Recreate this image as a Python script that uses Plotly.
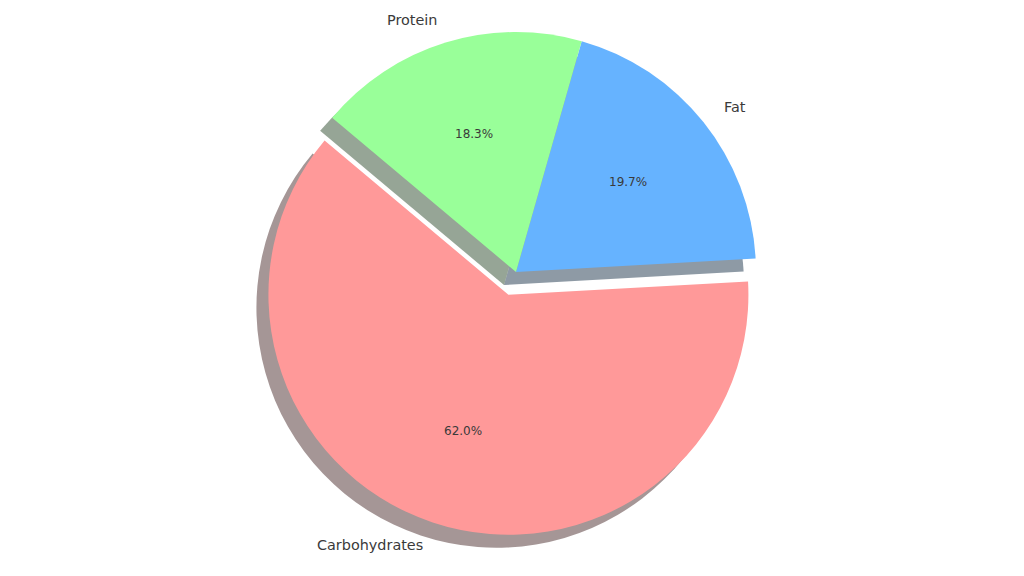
import math
import plotly.graph_objects as go

# ---- data ----
labels = ["Carbohydrates", "Fat", "Protein"]
values = [62.0, 19.7, 18.3]
colors = ["#ff9999", "#66b3ff", "#99ff99"]
explode = [0.1, 0.0, 0.0]

# ---- layout constants (pixels) ----
W, H = 1024, 576
PAGE_OFF = 8               # default body margin of the html page
CX, CY = 516 - PAGE_OFF, 272 - PAGE_OFF   # pie centre within the figure (px, y down)
R_WANT = 240               # wanted pie radius (px)
START = 140                # start angle, degrees counter-clockwise from 3 o'clock
SHADOW_DX, SHADOW_DY = -12, 13
LABEL_DIST, PCT_DIST = 1.1, 0.6

max_pull = max(explode)
half_x = R_WANT * (1 + max_pull)
half_y = min(half_x, CY, H - CY)
R = min(half_x, half_y) / (1 + max_pull)   # radius plotly will actually use
total = sum(values)


def dom(cx, cy):
    return dict(x=[(cx - half_x) / W, (cx + half_x) / W],
                y=[1 - (cy + half_y) / H, 1 - (cy - half_y) / H])


def shadow_color(hexc):
    r, g, b = (int(hexc[i:i + 2], 16) for i in (1, 3, 5))
    return "rgba(%d,%d,%d,0.5)" % (r * 0.3, g * 0.3, b * 0.3)


# plotly (counterclockwise) places the end of the first slice at the rotation angle
first_end = START + 360 * values[0] / total
rot = 90 - first_end
rot = (rot + 180) % 360 - 180

common = dict(labels=labels, values=values, sort=False, direction="counterclockwise",
              rotation=rot, pull=explode, textinfo="none",
              hoverinfo="label+percent", showlegend=False)

fig = go.Figure()
fig.add_trace(go.Pie(**common, domain=dom(CX + SHADOW_DX, CY + SHADOW_DY),
                     marker=dict(colors=[shadow_color(c) for c in colors], line=dict(width=0))))
fig.add_trace(go.Pie(**common, domain=dom(CX, CY),
                     marker=dict(colors=colors, line=dict(width=0))))

ang = START
annotations = []
for lab, v, ex in zip(labels, values, explode):
    span = 360 * v / total
    mid = math.radians(ang + span / 2)
    ang += span
    cx = CX + ex * R * math.cos(mid)
    cy = CY - ex * R * math.sin(mid)
    lx = cx + LABEL_DIST * R * math.cos(mid)
    ly = cy - LABEL_DIST * R * math.sin(mid)
    annotations.append(dict(x=lx / W, y=1 - ly / H, xref="paper", yref="paper", text=lab,
                            showarrow=False, xanchor="left" if math.cos(mid) > 0 else "right",
                            yanchor="middle", font=dict(family="DejaVu Sans", size=14.4, color="#3a3a3a")))
    px = cx + PCT_DIST * R * math.cos(mid)
    py = cy - PCT_DIST * R * math.sin(mid)
    annotations.append(dict(x=px / W, y=1 - py / H, xref="paper", yref="paper",
                            text="%.1f%%" % (100 * v / total), showarrow=False,
                            xanchor="center", yanchor="middle",
                            font=dict(family="DejaVu Sans", size=12, color="#3a3a3a")))

fig.update_layout(width=W, height=H, margin=dict(l=0, r=0, t=0, b=0),
                  paper_bgcolor="white", plot_bgcolor="white", annotations=annotations)

fig.write_html("out.html")
